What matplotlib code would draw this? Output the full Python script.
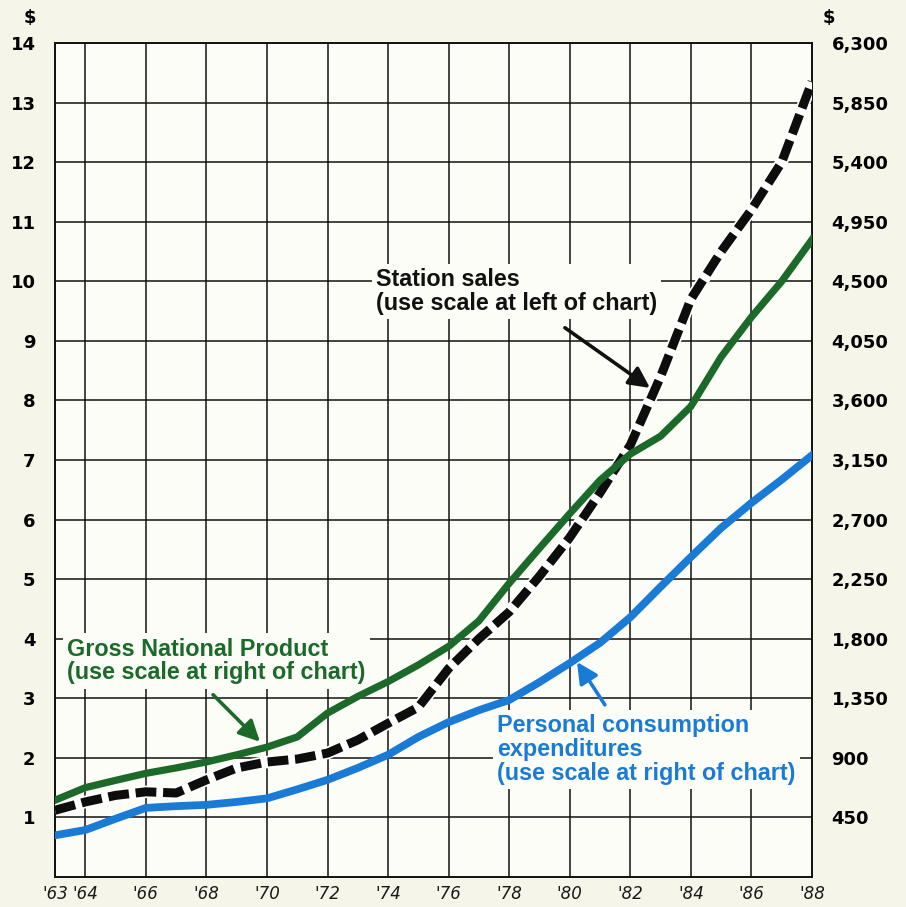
import matplotlib
matplotlib.use("Agg")
import matplotlib.pyplot as plt

# years on the x axis (two-digit)
years = list(range(63, 89))

# station sales, left scale ($ billions)
station_sales = [1.12, 1.26, 1.37, 1.43, 1.41, 1.63, 1.83, 1.93, 1.98, 2.08, 2.30,
                 2.58, 2.85, 3.50, 4.00, 4.45, 5.05, 5.70, 6.45, 7.25, 8.40, 9.70,
                 10.50, 11.20, 12.00, 13.35]

# gross national product, right scale ($ billions)
gnp = [580, 675, 730, 783, 824, 869, 923, 981, 1058, 1238, 1364, 1476, 1602, 1742,
       1935, 2219, 2484, 2745, 2997, 3195, 3330, 3555, 3929, 4230, 4500, 4815]

# personal consumption expenditures, right scale ($ billions)
pce = [315, 355, 440, 522, 535, 545, 567, 594, 662, 734, 824, 923, 1058, 1170,
       1260, 1337, 1472, 1616, 1769, 1962, 2192, 2417, 2637, 2826, 3002, 3186]

x_ticks = [63, 64, 66, 68, 70, 72, 74, 76, 78, 80, 82, 84, 86, 88]
x_labels = ["'%d" % y for y in x_ticks]
left_ticks = list(range(1, 15))
right_ticks = [450 * i for i in range(1, 15)]
right_labels = ["{:,}".format(v) for v in right_ticks]

GREEN = "#1b6a2a"
BLUE = "#1a7bd6"
LABEL_FONT = ["Liberation Sans", "DejaVu Sans"]

fig = plt.figure(figsize=(9.06, 9.07), dpi=100, facecolor="#f6f5e9")
ax = fig.add_axes([55 / 906, 30 / 907, 757 / 906, 834 / 907])
ax.set_facecolor("#fdfdf8")
ax.set_xlim(63, 88)
ax.set_ylim(0, 14)

ax.set_xticks(x_ticks)
ax.set_xticklabels(x_labels, fontsize=12, style="italic", color="#1a1a1a")
ax.set_yticks(left_ticks)
ax.set_yticklabels([str(v) for v in left_ticks], fontsize=13, fontweight="bold")
ax.tick_params(length=0)
ax.tick_params(axis="y", pad=14)
ax.tick_params(axis="x", pad=6)
ax.grid(True, color="#111111", lw=1.1)
ax.set_axisbelow(True)
for s in ax.spines.values():
    s.set_color("#111111")
    s.set_linewidth(1.4)

# station sales: thick dashed line over a white underlay
ax.plot(years, station_sales, color="white", lw=9, solid_capstyle="butt", zorder=3)
ax.plot(years, station_sales, color="#0d0d0d", lw=6.5, dashes=(2.3, 0.75),
        dash_capstyle="butt", zorder=4)

ax2 = ax.twinx()
ax2.set_ylim(0, 6300)
ax2.set_yticks(right_ticks)
ax2.set_yticklabels(right_labels, fontsize=13, fontweight="bold")
ax2.tick_params(length=0, pad=14)
for s in ax2.spines.values():
    s.set_visible(False)

ax2.plot(years, gnp, color=GREEN, lw=5.2, solid_joinstyle="round", zorder=3)
ax2.plot(years, pce, color=BLUE, lw=5.6, solid_joinstyle="round", zorder=3)

fig.text(30 / 906, 1 - 18 / 907, "$", ha="center", va="center",
         fontsize=13, fontweight="bold")
fig.text(829 / 906, 1 - 18 / 907, "$", ha="center", va="center",
         fontsize=13, fontweight="bold")

box = dict(facecolor="#fdfdf8", edgecolor="none", pad=3)
arrow = dict(arrowstyle="-|>,head_length=0.7,head_width=0.35", lw=2.6,
             mutation_scale=18, shrinkA=0, shrinkB=0)

ax.text(73.6, 10.22, "Station sales\n(use scale at left of chart)",
        ha="left", va="top", fontsize=16.8, fontweight="bold", family=LABEL_FONT,
        color="#111111", linespacing=1.05, bbox=box, zorder=5)
ax.annotate("", xy=(82.65, 8.21), xytext=(79.84, 9.22),
            arrowprops=dict(arrow, color="#111111"), zorder=6)

ax.text(63.4, 4.02, "Gross National Product\n(use scale at right of chart)",
        ha="left", va="top", fontsize=16.8, fontweight="bold", family=LABEL_FONT,
        color=GREEN, linespacing=1.05, bbox=box, zorder=5)
ax.annotate("", xy=(69.77, 2.27), xytext=(68.22, 3.06),
            arrowprops=dict(arrow, color=GREEN), zorder=6)

ax.text(77.6, 2.74, "Personal consumption\nexpenditures\n(use scale at right of chart)",
        ha="left", va="top", fontsize=16.8, fontweight="bold", family=LABEL_FONT,
        color=BLUE, linespacing=1.05, bbox=box, zorder=5)
ax.annotate("", xy=(80.24, 3.61), xytext=(81.16, 2.89),
            arrowprops=dict(arrow, color=BLUE), zorder=6)

fig.savefig("out.png", dpi=100, facecolor=fig.get_facecolor())
